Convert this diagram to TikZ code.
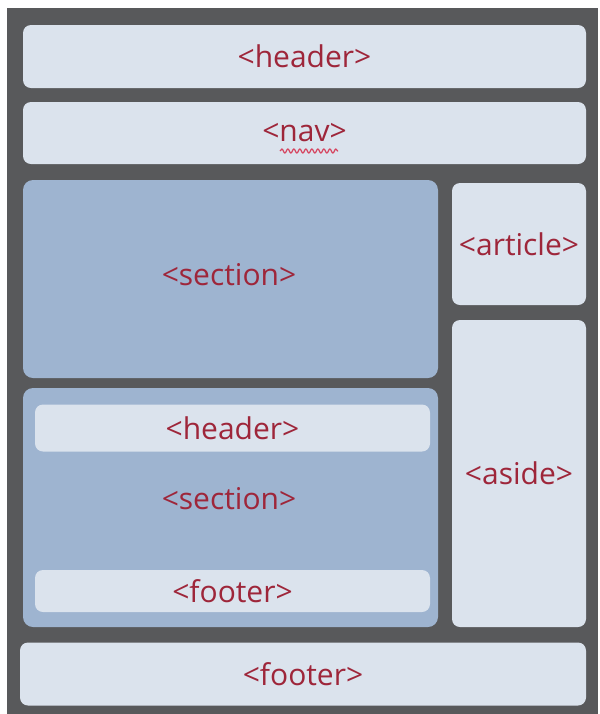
\documentclass[tikz,border=0pt]{standalone}
\usepackage{fontspec}
\setmainfont{Open Sans}
\usetikzlibrary{positioning,decorations.pathmorphing}
\definecolor{frame}{RGB}{88,89,91}
\definecolor{boxlight}{RGB}{219,227,237}
\definecolor{boxblue}{RGB}{158,180,208}
\definecolor{tagred}{RGB}{158,38,58}
\definecolor{wavered}{RGB}{214,70,96}
\tikzset{
x=0.5pt,
y=-0.5pt,
every node/.style={inner sep=0pt, outer sep=0pt, text=tagred, font=\fontsize{15}{18}\selectfont},
box/.style={fill=boxlight, rounded corners=4pt},
blk/.style={fill=boxblue, rounded corners=5pt},
}

\begin{document}
\begin{tikzpicture}
    \useasboundingbox (0,0) rectangle (600,714);
    \fill[white] (0,0) rectangle (600,714);
    \fill[frame] (7,8) rectangle (598,714);

    % page parts
    \node[box, minimum width=281.5pt, minimum height=31.5pt] (hdr) at (304.5,56.5) {<header>};
    \node[box, minimum width=281.5pt, minimum height=31pt] (nav) at (304.5,133) {<nav>};
    \node[blk, minimum width=207.5pt, minimum height=99pt] (sec) at (230.5,279) {};
    \node (secttl) at (229,275) {<section>};
    \node[box, minimum width=67pt, minimum height=61pt] (art) at (519,244) {<article>};
    \node[box, minimum width=67pt, minimum height=153.5pt] (aside) at (519,473.5) {<aside>};
    \node[blk, minimum width=207.5pt, minimum height=119.5pt] (sec2) at (230.5,507.5) {};
    \node[box, minimum width=197.5pt, minimum height=23.5pt] (ihdr) at (232.5,428) {<header>};
    \node (seclbl) at (229,499) {<section>};
    \node[box, minimum width=197.5pt, minimum height=21pt] (ifoot) at (232.5,591) {<footer>};
    \node[box, minimum width=283pt, minimum height=31.5pt] (ftr) at (303,674) {<footer>};

    % spell-check underline
    \coordinate (wl) at (280,151);
    \coordinate (wr) at (338,151);
    \draw[wavered, line width=0.6pt, decorate, decoration={snake, amplitude=1pt, segment length=3pt}] (wl) -- (wr);

\end{tikzpicture}
\end{document}
